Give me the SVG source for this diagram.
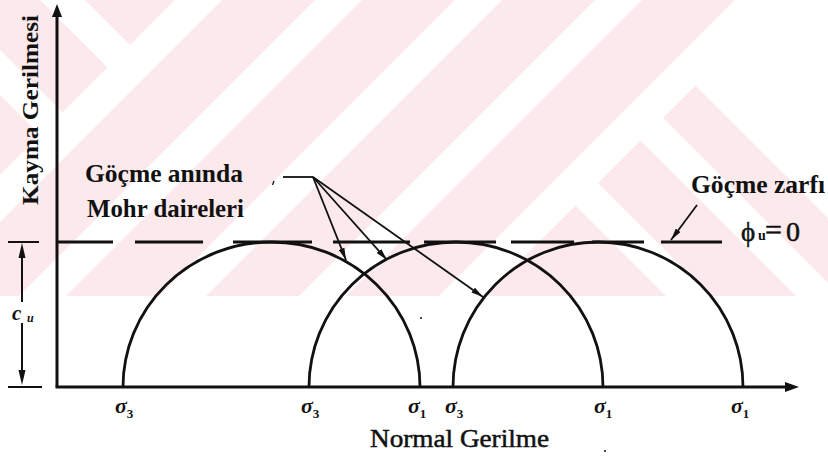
<svg xmlns="http://www.w3.org/2000/svg" width="828" height="459" viewBox="0 0 828 459">
<defs>
<style>
.ln{stroke:#111;fill:none;stroke-linecap:butt}
.ax{stroke-width:3}
.arc{stroke-width:2.8}
.dash{stroke-width:3.2}
.ld{stroke-width:1.8}
.t{font-family:"Liberation Serif","Times New Roman",serif;fill:#111}
.h{stroke:#111;stroke-width:0.5}
.b{font-weight:bold}
.sg{font-family:"Liberation Serif","Times New Roman",serif;font-style:italic;font-weight:bold;fill:#111}
.sub{font-style:normal}
.wm{fill:#fce9ec}
.wh{fill:#ffffff}
</style>
<clipPath id="wmclip"><rect x="0" y="0" width="828" height="296"/></clipPath>
<marker id="ah" viewBox="0 0 12 6" refX="12" refY="3" markerWidth="12" markerHeight="6" markerUnits="userSpaceOnUse" orient="auto">
<path d="M0,0 L12,3 L0,6 Z" fill="#111"/>
</marker>
</defs>
<rect width="828" height="459" fill="#fff"/>
<g id="watermark" clip-path="url(#wmclip)">
<rect class="wm" x="0" y="0" width="828" height="296"/>
<polygon class="wh" points="40,0 85,0 152.5,67.5 130,90"/>
<polygon class="wh" points="0,50 85,135 62.5,157.5 0,95"/>
<polygon class="wh" points="175,0 222,0 0,222 0,175"/>
<polygon class="wh" points="315,0 362,0 66,296 19,296"/>
<polygon class="wh" points="455,0 502,0 206,296 159,296"/>
<polygon class="wh" points="595,0 642,0 346,296 299,296"/>
<polygon class="wh" points="735,0 781,0 485,296 439,296"/>
<polygon class="wh" points="587.5,172.5 711,296 666,296 565,195"/>
<polygon class="wh" points="652.5,107.5 841,296 796,296 630,130"/>
<polygon class="wh" points="760,0 685,75 828,218 828,0"/>
</g>
<g id="axes">
<line class="ln ax" x1="57" y1="387" x2="57" y2="16"/>
<path d="M57,4 L52,17 L62,17 Z" fill="#111"/>
<line class="ln ax" x1="55.5" y1="387" x2="786" y2="387"/>
<path d="M799,387 L785,382 L785,392 Z" fill="#111"/>
</g>
<g id="envelope">
<path class="ln dash" d="M57,242H113M135,242H203M233,242H312M333,242H410M424,242H496M511,242H574M592,242H644M661,242H722"/>
</g>
<g id="circles">
<path class="ln arc" d="M123,387 A148.5,145 0 0 1 420,387"/>
<path class="ln arc" d="M309,387 A147,145 0 0 1 603,387"/>
<path class="ln arc" d="M453,387 A145,145 0 0 1 743,387"/>
</g>
<g id="cu-dimension">
<line class="ln" stroke-width="2" x1="8" y1="242" x2="39" y2="242"/>
<line class="ln" stroke-width="2" x1="8" y1="387" x2="42" y2="387"/>
<line class="ln" stroke-width="2" x1="22" y1="256" x2="22" y2="302"/>
<line class="ln" stroke-width="2" x1="22" y1="323" x2="22" y2="372"/>
<path d="M22,243 L18.5,258 L25.5,258 Z" fill="#111"/>
<path d="M22,385 L18.5,370 L25.5,370 Z" fill="#111"/>
<text class="sg" x="12" y="320" font-size="21">c</text>
<text class="sg" x="27" y="322" font-size="12">u</text>
</g>
<g id="connectors">
<line class="ln ld" x1="283" y1="177" x2="313" y2="177"/>
<line class="ln ld" x1="313" y1="177" x2="346" y2="260" marker-end="url(#ah)"/>
<line class="ln ld" x1="313" y1="177" x2="387" y2="260" marker-end="url(#ah)"/>
<line class="ln ld" x1="313" y1="177" x2="483" y2="297" marker-end="url(#ah)"/>
<line class="ln ld" x1="697" y1="205" x2="671" y2="240" marker-end="url(#ah)"/>
</g>
<g id="specks">
<path d="M274,181 L272.5,185" stroke="#111" stroke-width="1.3"/>
<circle cx="421" cy="318" r="1" fill="#111"/>
</g>
<g id="label-mohr">
<text class="t b" x="85" y="182" font-size="25" textLength="158" lengthAdjust="spacingAndGlyphs">Göçme anında</text>
<text class="t b" x="87" y="217" font-size="25" textLength="157" lengthAdjust="spacingAndGlyphs">Mohr daireleri</text>
</g>
<g id="label-envelope">
<text class="t b" x="691" y="193" font-size="25" textLength="134" lengthAdjust="spacingAndGlyphs">Göçme zarfı</text>
<text class="t h" x="741" y="241" font-size="27">ϕ</text>
<text class="t b" x="758" y="240" font-size="14">u</text>
<text class="t h" x="765" y="240" font-size="30">=</text>
<text class="t h" x="786" y="241" font-size="28">0</text>
</g>
<g id="axis-labels">
<text class="t b" transform="translate(38,110) rotate(-90)" text-anchor="middle" font-size="23" textLength="190" lengthAdjust="spacingAndGlyphs">Kayma Gerilmesi</text>
<text class="t h" x="370" y="447" font-size="25" textLength="179" lengthAdjust="spacingAndGlyphs">Normal Gerilme</text>
<circle cx="605" cy="451" r="1" fill="#111"/>
</g>
<g id="sigma-labels">
<text class="sg" x="115" y="413" font-size="22">σ<tspan class="sub" font-size="13" dy="5">3</tspan></text>
<text class="sg" x="301" y="413" font-size="22">σ<tspan class="sub" font-size="13" dy="5">3</tspan></text>
<text class="sg" x="408" y="413" font-size="22">σ<tspan class="sub" font-size="13" dy="5">1</tspan></text>
<text class="sg" x="445" y="413" font-size="22">σ<tspan class="sub" font-size="13" dy="5">3</tspan></text>
<text class="sg" x="594" y="413" font-size="22">σ<tspan class="sub" font-size="13" dy="5">1</tspan></text>
<text class="sg" x="731" y="413" font-size="22">σ<tspan class="sub" font-size="13" dy="5">1</tspan></text>
</g>
</svg>
